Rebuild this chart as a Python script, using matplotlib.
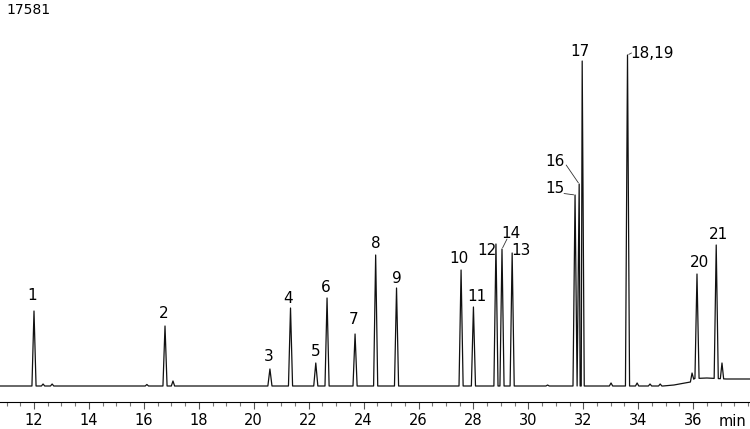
import numpy as np
import matplotlib
matplotlib.use("Agg")
import matplotlib.pyplot as plt
from matplotlib.ticker import MultipleLocator

# peak table: retention time (min), apex signal (counts), label
peak_times = [12.00, 16.77, 20.59, 21.34, 22.26, 22.67, 23.69, 24.44, 25.20,
              27.55, 28.00, 28.82, 29.04, 29.41, 31.70, 31.85, 31.96, 33.61,
              36.14, 36.84]
peak_heights = [3983, 3187, 903, 4143, 1222, 4674, 2762, 6958, 5205,
                6161, 4196, 7542, 7276, 7064, 10144, 10728, 17261, 17581,
                5948, 7489]
peak_names = ["1", "2", "3", "4", "5", "6", "7", "8", "9",
              "10", "11", "12", "14", "13", "15", "16", "17", "18,19",
              "20", "21"]

# small unlabelled peaks
minor_times = [12.33, 12.66, 16.11, 17.06, 30.70, 33.01, 33.96, 34.43, 34.80, 35.96, 37.05]
minor_heights = [106, 106, 80, 266, 53, 160, 160, 106, 106, 690, 1222]

# baseline drift
base_t = [10.70, 34.90, 35.30, 35.60, 35.90, 36.05, 36.50, 37.20, 38.20]
base_y = [0, 0, 53, 133, 212, 398, 425, 372, 372]

top_value = "17581"

# label placement (pixels, relative to apex) and leader lines
lab_off = {"1": (-2, 17), "2": (-1, 13), "3": (-1, 13), "4": (-2.5, 10.5),
           "5": (0, 12), "6": (-1, 12), "7": (-1, 15), "8": (0, 13),
           "9": (0, 11), "10": (-2, 13), "11": (3.5, 12), "12": (-9, -5),
           "14": (9, 17), "13": (9, 4), "15": (-20, 8), "16": (-24, 24),
           "17": (-2, 11), "18,19": (24.5, 3), "20": (3, 13), "21": (2, 12)}
leaders = {"14": (5, 10), "15": (-11, 1.5), "16": (-13, 19), "18,19": (4, 2)}

# build trace vertices: baseline knots + triangle peaks
hw_big, hw_small = 0.075, 0.06
pts = [(t, y) for t, y in zip(base_t, base_y)]
for t, h in zip(peak_times, peak_heights):
    b0 = np.interp(t - hw_big, base_t, base_y)
    b1 = np.interp(t + hw_big, base_t, base_y)
    pts += [(t - hw_big, b0), (t, h), (t + hw_big, b1)]
for t, h in zip(minor_times, minor_heights):
    b0 = np.interp(t - hw_small, base_t, base_y)
    b1 = np.interp(t + hw_small, base_t, base_y)
    pts += [(t - hw_small, b0), (t, h), (t + hw_small, b1)]
pts.sort(key=lambda p: p[0])
xs = [p[0] for p in pts]
ys = [p[1] for p in pts]

fig = plt.figure(figsize=(7.5, 4.29), dpi=100)
ax = fig.add_axes([0, 27.5 / 429, 1, 401.5 / 429])
ax.plot(xs, ys, color="#111111", lw=0.9)

k = 17581 / 331.0
ax.set_xlim(10.762, 38.07)
ax.set_ylim(-15.5 * k, 386 * k)

for s in ["top", "left", "right"]:
    ax.spines[s].set_visible(False)
ax.spines["bottom"].set_linewidth(0.8)
ax.set_yticks([])
ax.xaxis.set_minor_locator(MultipleLocator(0.5))
ax.set_xticks(np.arange(12, 37, 2))
ax.tick_params(axis="x", which="major", direction="out", length=5, width=0.8,
               color="#555555", labelsize=10.5, pad=3)
ax.tick_params(axis="x", which="minor", direction="out", length=3, width=0.8,
               color="#777777")

fig.text(0.008, 1 - 3 / 429, top_value, fontsize=10, ha="left", va="top")
fig.text(746 / 750, 1 - 422 / 429, "min", fontsize=10.5, ha="right", va="center")

for t, h, name in zip(peak_times, peak_heights, peak_names):
    dx, dy = lab_off[name]
    ax.annotate(name, xy=(t, h), xytext=(dx, dy - 5.5), textcoords="offset pixels",
                ha="center", va="baseline", fontsize=11)
    if name in leaders:
        lx, ly = leaders[name]
        ax.annotate("", xy=(t, h), xytext=(lx, ly), textcoords="offset pixels",
                    arrowprops=dict(arrowstyle="-", lw=0.6, color="#333333",
                                    shrinkA=0, shrinkB=1))

fig.savefig("out.png", dpi=100)
